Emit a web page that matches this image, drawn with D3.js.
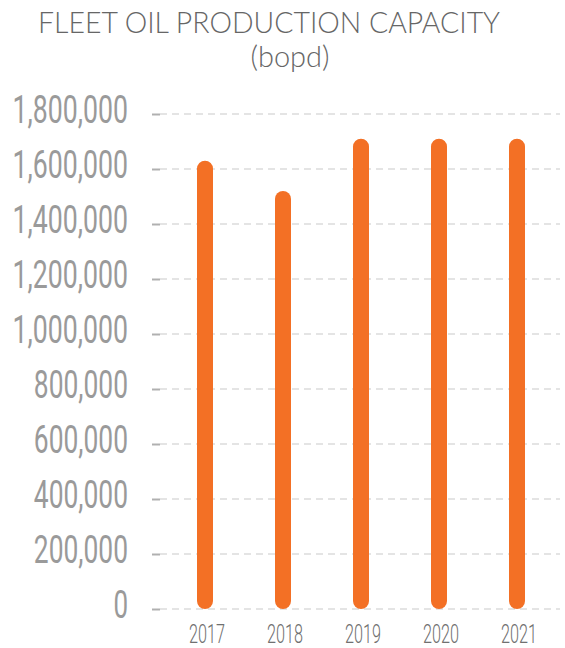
<!DOCTYPE html>
<html>
<head>
<meta charset="utf-8">
<script src="https://cdn.jsdelivr.net/npm/d3@7"></script>
<style>
  body { margin: 0; background: #fff; }
  svg { display: block; }
</style>
</head>
<body>
<div id="chart"></div>
<script>
'use strict';

const years = ['2017', '2018', '2019', '2020', '2021'];
const capacity = [1630000, 1520000, 1710000, 1710000, 1710000];
const yTicks = [0, 200000, 400000, 600000, 800000, 1000000, 1200000, 1400000, 1600000, 1800000];

const W = 565, H = 648;
const BAR_W = 16;
const ORANGE = '#f37025';

const svg = d3.select('#chart').append('svg')
    .attr('width', W)
    .attr('height', H);

// title
svg.append('text')
    .attr('x', 269).attr('y', 33)
    .attr('text-anchor', 'middle')
    .attr('textLength', 462)
    .attr('lengthAdjust', 'spacingAndGlyphs')
    .style('font-family', 'Lato')
    .style('font-weight', 300)
    .style('font-size', '29px')
    .style('fill', '#666')
    .text('FLEET OIL PRODUCTION CAPACITY');

svg.append('text')
    .attr('x', 290).attr('y', 67)
    .attr('text-anchor', 'middle')
    .style('font-family', 'Lato')
    .style('font-weight', 300)
    .style('font-size', '29px')
    .style('fill', '#666')
    .text('(bopd)');

const y = d3.scaleLinear().domain([0, 1800000]).range([609, 114]);
const x = d3.scalePoint().domain(years).range([205, 517]);

// gridlines
svg.append('g')
  .selectAll('line')
  .data(yTicks)
  .enter()
    .append('line')
    .attr('x1', 160).attr('x2', 560)
    .attr('y1', d => y(d)).attr('y2', d => y(d))
    .style('stroke', '#dcdcdc')
    .style('stroke-width', 1.3)
    .style('stroke-dasharray', '7,5');

// y axis
const yAxis = svg.append('g')
    .attr('transform', 'translate(160,0)')
    .call(d3.axisLeft(y)
      .tickValues(yTicks)
      .tickSizeInner(8)
      .tickSizeOuter(0)
      .tickPadding(24)
      .tickFormat(d3.format(',')));

yAxis.select('.domain').remove();
yAxis.selectAll('.tick line')
    .style('stroke', '#b0b0b0')
    .style('stroke-width', 2);
yAxis.selectAll('.tick text')
    .attr('dy', '0.22em')
    .style('font-family', 'Roboto')
    .style('font-size', '38px')
    .style('fill', '#9a9a9a')
    .each(function() {
      // squeeze the digits like the condensed face in the picture
      const t = d3.select(this);
      const s = t.text();
      const digits = s.replace(/,/g, '').length;
      const commas = s.length - digits;
      t.attr('textLength', digits * 14.6 + commas * 6.6)
       .attr('lengthAdjust', 'spacingAndGlyphs');
    });

// bars
svg.append('g')
  .selectAll('rect')
  .data(years.map((yr, i) => ({year: yr, value: capacity[i]})))
  .enter()
    .append('rect')
    .attr('x', d => x(d.year) - BAR_W / 2)
    .attr('y', d => y(d.value))
    .attr('width', BAR_W)
    .attr('height', d => y(0) - y(d.value))
    .attr('rx', BAR_W / 2)
    .style('fill', ORANGE);

// x labels
svg.append('g')
  .selectAll('text')
  .data(years)
  .enter()
    .append('text')
    .attr('x', d => x(d) + 2)
    .attr('y', 643)
    .attr('text-anchor', 'middle')
    .attr('textLength', 36)
    .attr('lengthAdjust', 'spacingAndGlyphs')
    .style('font-family', 'Roboto')
    .style('font-weight', 300)
    .style('font-size', '25px')
    .style('fill', '#707070')
    .text(d => d);
</script>
</body>
</html>
